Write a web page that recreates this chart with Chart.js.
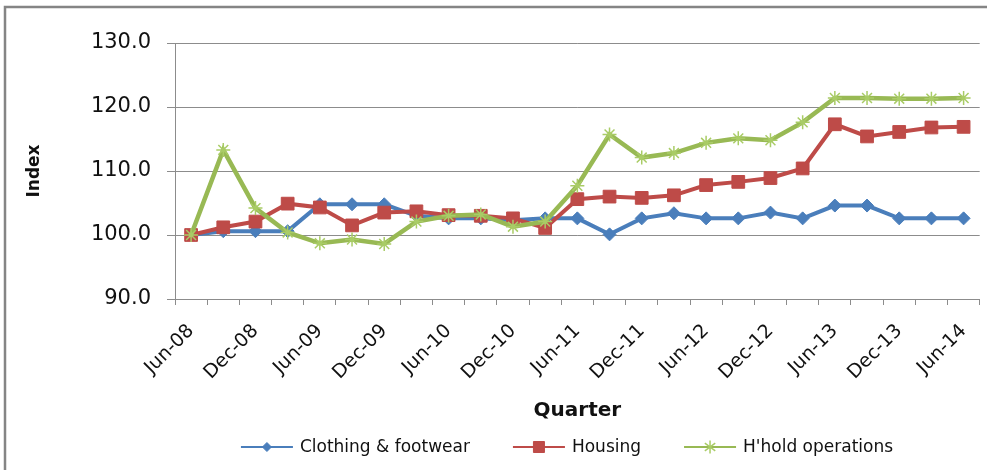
<!DOCTYPE html>
<html>
<head>
<meta charset="utf-8">
<script src="https://cdn.jsdelivr.net/npm/chart.js@4/dist/chart.umd.min.js"></script>
<style>
html,body{margin:0;padding:0;background:#fff;}
#wrap{position:relative;width:995px;height:470px;}
</style>
</head>
<body>
<div id="wrap"><canvas id="c"></canvas></div>
<script>
const categories = ['Jun-08','Sep-08','Dec-08','Mar-09','Jun-09','Sep-09','Dec-09','Mar-10','Jun-10','Sep-10','Dec-10','Mar-11','Jun-11','Sep-11','Dec-11','Mar-12','Jun-12','Sep-12','Dec-12','Mar-13','Jun-13','Sep-13','Dec-13','Mar-14','Jun-14'];
const shownXLabels = ['Jun-08','Dec-08','Jun-09','Dec-09','Jun-10','Dec-10','Jun-11','Dec-11','Jun-12','Dec-12','Jun-13','Dec-13','Jun-14'];
const clothing = [100.0,100.6,100.6,100.6,104.8,104.8,104.8,103.0,102.6,102.6,102.3,102.6,102.6,100.1,102.6,103.4,102.6,102.6,103.5,102.6,104.6,104.6,102.6,102.6,102.6];
const housing = [100.0,101.2,102.1,104.9,104.3,101.5,103.5,103.7,103.1,103.0,102.6,101.1,105.6,106.0,105.8,106.2,107.8,108.3,108.9,110.4,117.3,115.4,116.1,116.8,116.9];
const hhold = [100.0,113.3,104.2,100.4,98.7,99.3,98.6,102.1,103.0,103.2,101.3,102.1,107.7,115.7,112.1,112.8,114.4,115.1,114.8,117.6,121.4,121.4,121.3,121.3,121.4];
const seriesNames = ['Clothing & footwear','Housing',"H'hold operations"];
const yMin = 90, yMax = 130, yStep = 10;

const FAMILY = "'DejaVu Sans'";

const frame = {
  id:'frame',
  beforeDraw(chart){
    const ctx = chart.ctx;
    ctx.save();
    ctx.strokeStyle = '#858585';
    ctx.lineWidth = 2.5;
    ctx.beginPath();
    ctx.moveTo(5, 470);
    ctx.lineTo(5, 7);
    ctx.lineTo(987, 7);
    ctx.stroke();
    ctx.restore();
  }
};

const customLegend = {
  id:'customLegend',
  afterDraw(chart){
    const ctx = chart.ctx;
    ctx.save();
    ctx.font = '17px ' + FAMILY;
    const lineLen = 52, gapText = 7, gapItem = 43;
    const ds = chart.data.datasets;
    let total = 0;
    ds.forEach((d,i)=>{ total += lineLen + gapText + ctx.measureText(d.label).width + (i < ds.length-1 ? gapItem : 0); });
    let x = 567 - total/2;
    const y = 447;
    ds.forEach((d,i)=>{
      ctx.strokeStyle = d.borderColor;
      ctx.lineWidth = 2;
      ctx.beginPath(); ctx.moveTo(x, y); ctx.lineTo(x+lineLen, y); ctx.stroke();
      ctx.fillStyle = d.pointBackgroundColor;
      ctx.strokeStyle = d.pointBorderColor;
      ctx.lineWidth = d.pointBorderWidth;
      ctx.beginPath();
      const px = x+lineLen/2;
      const r = d.legendRadius;
      if (d.pointStyle === 'rectRot') {
        ctx.moveTo(px, y-r); ctx.lineTo(px+r, y); ctx.lineTo(px, y+r); ctx.lineTo(px-r, y); ctx.closePath(); ctx.fill(); ctx.stroke();
      } else if (d.pointStyle === 'rect') {
        ctx.rect(px-r, y-r, 2*r, 2*r); ctx.fill(); ctx.stroke();
      } else {
        ctx.moveTo(px, y-r); ctx.lineTo(px, y+r);
        ctx.moveTo(px-r*0.8, y-r*0.6); ctx.lineTo(px+r*0.8, y+r*0.6);
        ctx.moveTo(px-r*0.8, y+r*0.6); ctx.lineTo(px+r*0.8, y-r*0.6);
        ctx.stroke();
      }
      x += lineLen + gapText;
      ctx.fillStyle = '#111';
      ctx.textBaseline = 'middle';
      ctx.textAlign = 'left';
      ctx.fillText(d.label, x, y+1);
      x += ctx.measureText(d.label).width + gapItem;
    });
    ctx.restore();
  }
};

new Chart(document.getElementById('c'), {
  type:'line',
  data:{
    labels: categories,
    datasets:[
      {label:seriesNames[0], data:clothing, borderColor:'#4A7EBB', backgroundColor:'#4A7EBB', pointBackgroundColor:'#4A7EBB', pointBorderColor:'#4A7EBB', pointStyle:'rectRot', pointRadius:6.5, pointBorderWidth:1, borderWidth:4, tension:0, order:3, legendRadius:4.5},
      {label:seriesNames[1], data:housing, borderColor:'#BE4B48', backgroundColor:'#BE4B48', pointBackgroundColor:'#BE4B48', pointBorderColor:'#BE4B48', pointStyle:'rect', pointRadius:9, pointBorderWidth:1, borderWidth:4, tension:0, order:2, legendRadius:5.5},
      {label:seriesNames[2], data:hhold, borderColor:'#98B954', backgroundColor:'#98B954', pointBackgroundColor:'#98B954', pointBorderColor:'#A9CC66', pointStyle:'star', pointRadius:7, pointBorderWidth:1.5, borderWidth:4.5, tension:0, order:1, legendRadius:6.5}
    ]
  },
  options:{
    responsive:true,
    maintainAspectRatio:false,
    animation:false,
    events:[],
    layout:{padding:{top:43,right:14,bottom:40,left:0}},
    plugins:{legend:{display:false}, tooltip:{enabled:false}},
    scales:{
      x:{
        offset:true,
        grid:{display:true, drawOnChartArea:false, drawTicks:true, tickLength:6, offset:true, color:'#8c8c8c'},
        border:{display:true, color:'#8c8c8c', width:1},
        ticks:{
          autoSkip:false, minRotation:45, maxRotation:45, padding:15,
          color:'#111', font:{family:FAMILY, size:19},
          callback:function(v, i){ const l = categories[i]; return shownXLabels.includes(l) ? l : ''; }
        },
        title:{display:true, text:'Quarter', color:'#111', font:{family:FAMILY, size:20, weight:'bold'}, padding:{top:0,bottom:7}},
        afterFit(s){ s.height = 131; }
      },
      y:{
        min:yMin, max:yMax,
        grid:{color:'#8c8c8c', lineWidth:1, tickLength:8},
        border:{display:true, color:'#8c8c8c', width:1},
        ticks:{stepSize:yStep, padding:16, color:'#111', font:{family:FAMILY, size:21}, callback:v=>v.toFixed(1)},
        title:{display:true, text:'Index', color:'#111', font:{family:FAMILY, size:17, weight:'bold'}, padding:{top:24,bottom:0}},
        afterFit(s){ s.width = 175; }
      }
    }
  },
  plugins:[frame, customLegend]
});
</script>
</body>
</html>
